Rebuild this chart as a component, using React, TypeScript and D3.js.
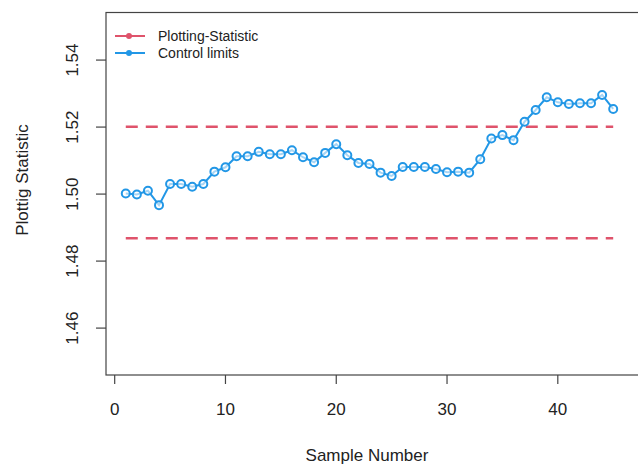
import React, { useEffect, useRef } from 'react';
import * as d3 from 'd3';

// sample numbers 1..45 and the plotted statistic
const sampleNumbers = [
  1, 2, 3, 4, 5, 6, 7, 8, 9, 10, 11, 12, 13, 14, 15, 16, 17, 18, 19, 20, 21, 22, 23,
  24, 25, 26, 27, 28, 29, 30, 31, 32, 33, 34, 35, 36, 37, 38, 39, 40, 41, 42, 43, 44, 45,
];
const statValues = [
  1.5002, 1.4999, 1.501, 1.4967, 1.503, 1.503, 1.5022, 1.503, 1.5067, 1.508,
  1.5113, 1.5113, 1.5126, 1.5119, 1.5119, 1.5131, 1.511, 1.5095, 1.5123, 1.5149,
  1.5116, 1.5093, 1.509, 1.5064, 1.5054, 1.5081, 1.5081, 1.5081, 1.5075, 1.5065,
  1.5067, 1.5064, 1.5104, 1.5166, 1.5176, 1.5161, 1.5216, 1.5251, 1.5289, 1.5274,
  1.5269, 1.5271, 1.5271, 1.5296, 1.5254,
];
const controlLimits = [1.5201, 1.4868];
const xTicks = [0, 10, 20, 30, 40];
const yTicks = [1.46, 1.48, 1.5, 1.52, 1.54];
const legendLabels = ['Plotting-Statistic', 'Control limits'];

const W = 638;
const H = 465;
const RED = '#DF536B';
const BLUE = '#2297E6';

export default function App() {
  const ref = useRef<SVGSVGElement>(null);

  useEffect(() => {
    const svg = d3.select(ref.current);
    svg.selectAll('*').remove();

    const left = 106, right = 642, top = 12.5, bottom = 375;
    const x = d3.scaleLinear().domain([-0.785, 47.6]).range([left, right]);
    const y = d3.scaleLinear().domain([1.446, 1.5542]).range([bottom, top]);

    svg.append('rect').attr('width', W).attr('height', H).attr('fill', 'white');

    // control limits
    svg.selectAll('line.limit')
      .data(controlLimits)
      .enter()
      .append('line')
      .attr('x1', x(1))
      .attr('x2', x(45))
      .attr('y1', d => y(d))
      .attr('y2', d => y(d))
      .attr('stroke', RED)
      .attr('stroke-width', 2.5)
      .attr('stroke-dasharray', '12,8');

    // statistic line
    const pts = sampleNumbers.map((s, i) => [s, statValues[i]] as [number, number]);
    const line = d3.line<[number, number]>().x(d => x(d[0])).y(d => y(d[1]));
    svg.append('path')
      .attr('d', line(pts))
      .attr('fill', 'none')
      .attr('stroke', BLUE)
      .attr('stroke-width', 2);

    svg.selectAll('circle.pt')
      .data(pts)
      .enter()
      .append('circle')
      .attr('cx', d => x(d[0]))
      .attr('cy', d => y(d[1]))
      .attr('r', 4)
      .attr('fill', 'white')
      .attr('fill-opacity', 0.6)
      .attr('stroke', BLUE)
      .attr('stroke-width', 2);

    // box
    svg.append('rect')
      .attr('x', left).attr('y', top)
      .attr('width', right - left).attr('height', bottom - top)
      .attr('fill', 'none').attr('stroke', '#444').attr('stroke-width', 1.2);

    // x axis
    const xg = svg.append('g').attr('transform', `translate(0,${bottom})`);
    xg.selectAll('line').data(xTicks).enter().append('line')
      .attr('x1', d => x(d)).attr('x2', d => x(d))
      .attr('y1', 0).attr('y2', 9)
      .attr('stroke', '#444').attr('stroke-width', 1.2);
    xg.selectAll('text').data(xTicks).enter().append('text')
      .attr('x', d => x(d)).attr('y', 40)
      .attr('text-anchor', 'middle')
      .style('font', '17px "Liberation Sans", Arial, sans-serif')
      .attr('fill', '#222')
      .text(d => d);

    // y axis
    const yg = svg.append('g').attr('transform', `translate(${left},0)`);
    yg.selectAll('line').data(yTicks).enter().append('line')
      .attr('x1', 0).attr('x2', -10)
      .attr('y1', d => y(d)).attr('y2', d => y(d))
      .attr('stroke', '#444').attr('stroke-width', 1.2);
    yg.selectAll('text').data(yTicks).enter().append('text')
      .attr('transform', d => `translate(-28,${y(d)}) rotate(-90)`)
      .attr('text-anchor', 'middle')
      .style('font', '17px "Liberation Sans", Arial, sans-serif')
      .attr('fill', '#222')
      .text(d => d3.format('.2f')(d));

    // titles
    svg.append('text')
      .attr('x', 367).attr('y', 461)
      .attr('text-anchor', 'middle')
      .style('font', '17px "Liberation Sans", Arial, sans-serif')
      .attr('fill', '#222')
      .text('Sample Number');
    svg.append('text')
      .attr('transform', `translate(28,180) rotate(-90)`)
      .attr('text-anchor', 'middle')
      .style('font', '17px "Liberation Sans", Arial, sans-serif')
      .attr('fill', '#222')
      .text('Plottig Statistic');

    // legend
    const lg = svg.selectAll('g.legend')
      .data(legendLabels)
      .enter()
      .append('g')
      .attr('transform', (d, i) => `translate(115,${36 + i * 17})`);
    lg.append('line')
      .attr('x1', 0).attr('x2', 30).attr('y1', 0).attr('y2', 0)
      .attr('stroke', (d, i) => (i === 0 ? RED : BLUE))
      .attr('stroke-width', 2);
    lg.append('circle')
      .attr('cx', 14).attr('cy', 0).attr('r', 3)
      .attr('fill', (d, i) => (i === 0 ? RED : BLUE));
    lg.append('text')
      .attr('x', 43).attr('y', 5)
      .style('font', '14px "Liberation Sans", Arial, sans-serif')
      .attr('fill', '#222')
      .text(d => d);
  }, []);

  return (
    <svg
      ref={ref}
      width={W}
      height={H}
      style={{ position: 'absolute', left: 0, top: 0 }}
    />
  );
}
